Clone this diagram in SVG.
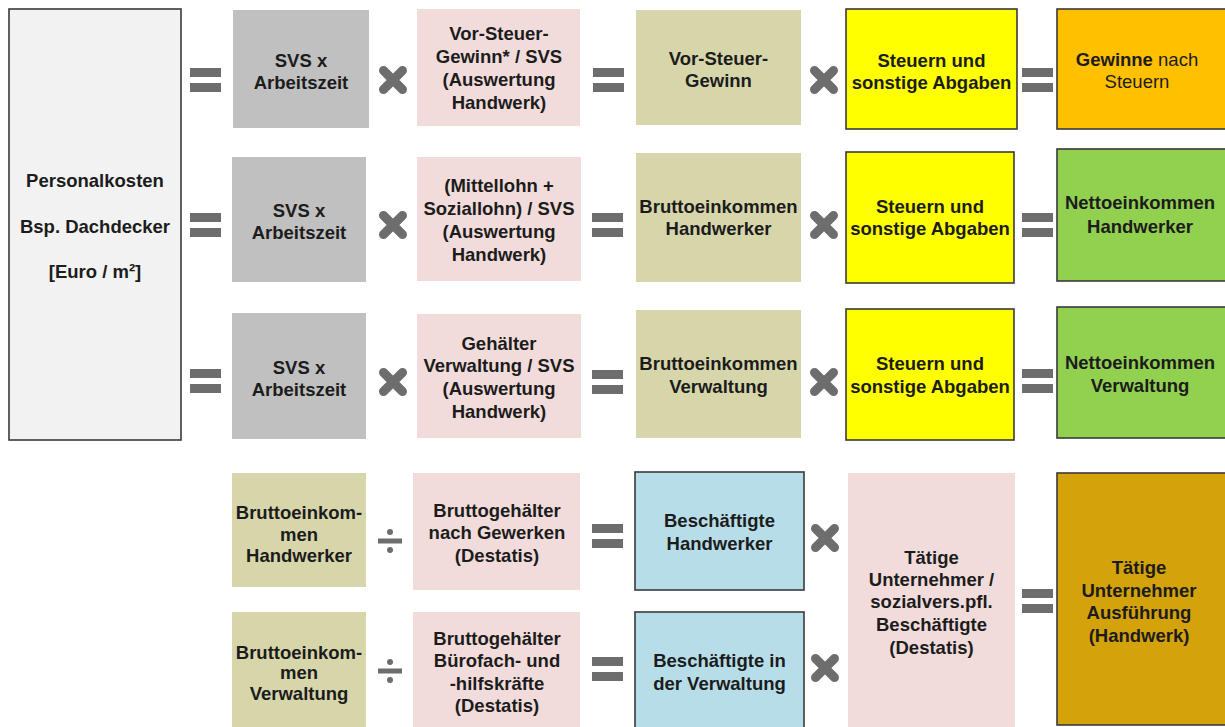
<svg xmlns="http://www.w3.org/2000/svg" width="1225" height="727" viewBox="0 0 1225 727">
<style>
text{font-family:"Liberation Sans",Arial,sans-serif;font-size:18.5px;font-weight:bold;fill:#1c1c1c;text-anchor:middle}
.n{font-weight:normal}
.grey{fill:#c0c0c0}
.pink{fill:#f2dcdb}
.olive{fill:#d7d6ab}
.yel{fill:#ffff00;stroke:#3a3a3a;stroke-width:1.6}
.ora{fill:#ffc000;stroke:#3a3a3a;stroke-width:1.6}
.grn{fill:#92d050;stroke:#3a3a3a;stroke-width:1.6}
.cyan{fill:#b7dee8;stroke:#3a3a3a;stroke-width:1.6}
.gold{fill:#d4a20a;stroke:#3a3a3a;stroke-width:1.6}
.left{fill:#f2f2f2;stroke:#3a3a3a;stroke-width:1.6}
.op{fill:#6d6d6d}
</style>
<defs>
<g id="eq"><rect x="0" y="0" width="31" height="9" class="op"/><rect x="0" y="15" width="31" height="9" class="op"/></g>
<g id="mul"><path d="M-9.5,-9.5 L9.5,9.5 M-9.5,9.5 L9.5,-9.5" stroke="#6d6d6d" stroke-width="9" stroke-linecap="round" fill="none"/></g>
<g id="div"><rect x="-12" y="-2.5" width="24" height="5" class="op"/><circle cx="0" cy="-9" r="3" class="op"/><circle cx="0" cy="9" r="3" class="op"/></g>
</defs>

<g id="personalkosten">
<rect x="9" y="9" width="172" height="431" class="left"/>
<text x="95" y="187">Personalkosten</text>
<text x="95" y="233">Bsp. Dachdecker</text>
<text x="95" y="278">[Euro / m²]</text>
</g>

<!-- Row 1 -->
<g id="r1-svs"><rect x="233" y="10" width="136" height="118" class="grey"/><text x="301" y="66.5">SVS x</text><text x="301" y="88.5">Arbeitszeit</text></g>
<g id="r1-vsg-svs"><rect x="417" y="9" width="163" height="117" class="pink"/><text x="499" y="40">Vor-Steuer-</text><text x="499" y="63">Gewinn* / SVS</text><text x="499" y="86">(Auswertung</text><text x="499" y="109">Handwerk)</text></g>
<g id="r1-vsg"><rect x="636" y="10" width="165" height="115" class="olive"/><text x="718.5" y="64.5">Vor-Steuer-</text><text x="718.5" y="87">Gewinn</text></g>
<g id="r1-steuern"><rect x="846" y="9" width="171" height="120" class="yel"/><text x="931.5" y="66.5">Steuern und</text><text x="931.5" y="89">sonstige Abgaben</text></g>
<g id="r1-gewinne"><rect x="1057" y="9" width="175" height="120" class="ora"/><text x="1137" y="65.5">Gewinne<tspan class="n"> nach</tspan></text><text x="1137" y="88" class="n">Steuern</text></g>

<!-- Row 2 -->
<g id="r2-svs"><rect x="232" y="157" width="134" height="125" class="grey"/><text x="299" y="216.5">SVS x</text><text x="299" y="238.5">Arbeitszeit</text></g>
<g id="r2-lohn"><rect x="417" y="157" width="164" height="124" class="pink"/><text x="499" y="191.5">(Mittellohn +</text><text x="499" y="214.5">Soziallohn) / SVS</text><text x="499" y="238">(Auswertung</text><text x="499" y="261">Handwerk)</text></g>
<g id="r2-brutto"><rect x="636" y="153" width="165" height="129" class="olive"/><text x="718.5" y="212.5">Bruttoeinkommen</text><text x="718.5" y="235">Handwerker</text></g>
<g id="r2-steuern"><rect x="846" y="152" width="168" height="131" class="yel"/><text x="930" y="212.5">Steuern und</text><text x="930" y="235">sonstige Abgaben</text></g>
<g id="r2-netto"><rect x="1057" y="149" width="175" height="132" class="grn"/><text x="1140" y="208.5">Nettoeinkommen</text><text x="1140" y="233">Handwerker</text></g>

<!-- Row 3 -->
<g id="r3-svs"><rect x="232" y="313" width="134" height="126" class="grey"/><text x="299" y="373.5">SVS x</text><text x="299" y="395.5">Arbeitszeit</text></g>
<g id="r3-gehaelter"><rect x="417" y="314" width="164" height="124" class="pink"/><text x="499" y="349.5">Gehälter</text><text x="499" y="372">Verwaltung / SVS</text><text x="499" y="395">(Auswertung</text><text x="499" y="418">Handwerk)</text></g>
<g id="r3-brutto"><rect x="636" y="310" width="165" height="128" class="olive"/><text x="718.5" y="369.5">Bruttoeinkommen</text><text x="718.5" y="393">Verwaltung</text></g>
<g id="r3-steuern"><rect x="846" y="309" width="168" height="131" class="yel"/><text x="930" y="369.5">Steuern und</text><text x="930" y="393">sonstige Abgaben</text></g>
<g id="r3-netto"><rect x="1057" y="307" width="175" height="131" class="grn"/><text x="1140" y="368.5">Nettoeinkommen</text><text x="1140" y="391.5">Verwaltung</text></g>

<!-- Bottom -->
<g id="b1-brutto"><rect x="232" y="473" width="134" height="114" class="olive"/><text x="299" y="519">Bruttoeinkom-</text><text x="299" y="540.5">men</text><text x="299" y="562">Handwerker</text></g>
<g id="b1-gehaelter"><rect x="413" y="473" width="167" height="117" class="pink"/><text x="497" y="516.5">Bruttogehälter</text><text x="497" y="539">nach Gewerken</text><text x="497" y="561.5">(Destatis)</text></g>
<g id="b1-besch"><rect x="635" y="472" width="169" height="118" class="cyan"/><text x="719.5" y="526.5">Beschäftigte</text><text x="719.5" y="549.5">Handwerker</text></g>
<g id="b2-brutto"><rect x="232" y="612" width="134" height="120" class="olive"/><text x="299" y="659">Bruttoeinkom-</text><text x="299" y="679">men</text><text x="299" y="700">Verwaltung</text></g>
<g id="b2-gehaelter"><rect x="413" y="612" width="167" height="120" class="pink"/><text x="497" y="644.5">Bruttogehälter</text><text x="497" y="667">Bürofach- und</text><text x="497" y="689.5">-hilfskräfte</text><text x="497" y="711.5">(Destatis)</text></g>
<g id="b2-besch"><rect x="635" y="612" width="169" height="120" class="cyan"/><text x="719.5" y="666.5">Beschäftigte in</text><text x="719.5" y="689.5">der Verwaltung</text></g>
<g id="b-quote"><rect x="848" y="473" width="167" height="259" class="pink"/><text x="931.5" y="563.5">Tätige</text><text x="931.5" y="585.5">Unternehmer /</text><text x="931.5" y="608">sozialvers.pfl.</text><text x="931.5" y="630.5">Beschäftigte</text><text x="931.5" y="653.5">(Destatis)</text></g>
<g id="b-unternehmer"><rect x="1057" y="473" width="175" height="252" class="gold"/><text x="1139" y="573.5">Tätige</text><text x="1139" y="596.5">Unternehmer</text><text x="1139" y="619">Ausführung</text><text x="1139" y="641.5">(Handwerk)</text></g>

<g id="operators">
<use href="#eq" x="190" y="68"/><use href="#eq" x="190" y="213"/><use href="#eq" x="190" y="369"/>
<use href="#eq" x="593" y="68"/><use href="#eq" x="592" y="213"/><use href="#eq" x="592" y="370"/>
<use href="#eq" x="1022" y="68"/><use href="#eq" x="1022" y="213"/><use href="#eq" x="1022" y="369"/>
<use href="#eq" x="592" y="524"/><use href="#eq" x="592" y="657"/><use href="#eq" x="1022" y="589"/>
<use href="#mul" x="393" y="80"/><use href="#mul" x="393" y="225"/><use href="#mul" x="393" y="382"/>
<use href="#mul" x="824" y="80"/><use href="#mul" x="824" y="225"/><use href="#mul" x="824" y="382"/>
<use href="#mul" x="825" y="538"/><use href="#mul" x="825" y="668"/>
<use href="#div" x="390" y="541"/><use href="#div" x="390" y="671"/>
</g>
</svg>
